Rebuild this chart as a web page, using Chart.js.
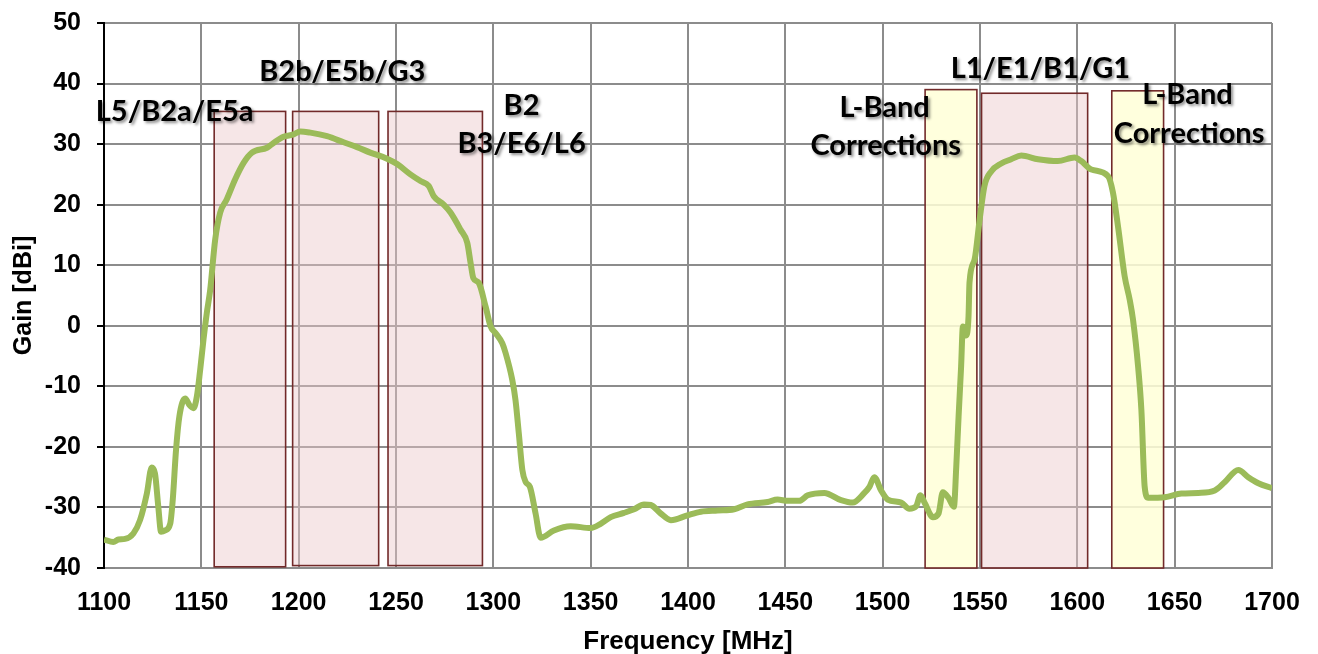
<!DOCTYPE html>
<html><head><meta charset="utf-8">
<script src="https://cdn.jsdelivr.net/npm/chart.js@4/dist/chart.umd.min.js"></script>
<style>html,body{margin:0;padding:0;background:#fff}#wrap{width:1318px;height:654px}</style>
</head><body><div id="wrap"><canvas id="c" width="1318" height="654"></canvas></div>
<script>
// Frequency sweep (MHz) and measured gain (dBi)
const freqMHz = [1100,1104.8,1107.4,1110.8,1115.1,1118.5,1122,1124.5,1126.2,1127.9,1129.3,1131.4,1134,1135.3,1137,1138.7,1141.7,1143.9,1146,1147.7,1149.4,1151.1,1152.8,1154.5,1157.1,1159.7,1163.1,1167.4,1171.7,1176,1183.7,1187.1,1192.2,1197.4,1200.8,1206,1214.6,1223.1,1230,1236.8,1245.4,1250.6,1257.4,1262.6,1266.8,1269.4,1274.5,1278,1283.1,1286.6,1288.3,1289.7,1292.5,1296,1298.6,1301.1,1304.6,1306.3,1309.7,1311.4,1313.1,1314.9,1316.6,1318.8,1321.7,1324.3,1331.1,1339.7,1350,1355.1,1360.3,1367.1,1372.3,1377.4,1380.9,1386,1391.2,1399.7,1406.6,1415.2,1423.7,1430.6,1440.9,1446,1451.2,1457.2,1461.5,1470,1478.6,1484.6,1490.6,1493.2,1495.7,1499.2,1502.6,1509.5,1513.7,1517.2,1519.4,1521.8,1525.8,1528.7,1530.9,1533.8,1536.6,1537.8,1539,1540.3,1541.2,1542.9,1544.1,1544.6,1547.2,1549.8,1552.3,1555.8,1560.9,1566,1571.2,1579.8,1590,1598.6,1602,1607.2,1615.8,1618.3,1620.9,1624.3,1626.9,1628.6,1631.2,1632.9,1634.6,1636.4,1644.9,1653.5,1662.1,1670.6,1675.8,1682.7,1687.8,1693,1700];
const gainDBi = [-35.3,-35.7,-35.3,-35.2,-34.3,-32.1,-27.7,-23.4,-24.4,-29.9,-34.0,-33.8,-32.7,-28.8,-20.5,-15.0,-12.0,-13.1,-13.6,-11.7,-7.3,-2.3,2.1,5.8,14.2,18.7,20.9,24.2,26.9,28.6,29.4,30.2,31.2,31.6,32.1,31.9,31.3,30.3,29.5,28.6,27.6,26.7,25.0,23.9,23.1,21.4,20.0,18.7,15.9,13.7,10.4,7.9,7.1,3.2,-0.1,-1.2,-2.9,-4.5,-8.9,-12.3,-17.8,-23.8,-25.8,-26.6,-31.0,-35.0,-33.8,-33.1,-33.4,-32.7,-31.6,-30.9,-30.3,-29.5,-29.6,-31.0,-32.1,-31.3,-30.7,-30.5,-30.3,-29.5,-29.1,-28.7,-28.9,-28.9,-28.0,-27.6,-28.8,-29.2,-27.6,-26.6,-25.0,-27.2,-28.7,-29.2,-30.2,-29.8,-28.0,-29.4,-31.6,-31.0,-27.5,-28.4,-29.9,-23.3,-15.0,-6.7,-0.1,-1.6,1.5,7.1,10.9,17.5,23.1,25.5,26.8,27.5,28.1,27.5,27.2,27.8,27.2,25.8,24.7,22.0,16.4,8.2,4.3,1.0,-6.7,-13.9,-26.6,-28.4,-28.3,-27.7,-27.6,-27.2,-25.8,-23.8,-25.0,-26.0,-26.8];

// GNSS band boxes: start/end frequency (MHz), top/bottom gain (dBi), kind
const bandStart = [1156.6, 1196.9, 1245.9, 1521.8, 1550.8, 1617.7];
const bandEnd   = [1193.3, 1241.1, 1294.4, 1548.4, 1605.3, 1644.3];
const bandTop   = [35.4, 35.4, 35.4, 39.0, 38.4, 38.8];
const bandBottom= [-39.8, -39.6, -39.6, -40, -40, -40];
const bandKind  = ['gnss','gnss','gnss','corr','gnss','corr'];

// Band labels, placed at (frequency, gain) centres
const labelText = ['L5/B2a/E5a','B2b/E5b/G3','B2','B3/E6/L6','L-Band','Corrections','L1/E1/B1/G1','L-Band','Corrections'];
const labelFreq = [1136.3, 1222.4, 1314.5, 1314.5, 1501.0, 1501.6, 1581.0, 1656.6, 1657.4];
const labelGain = [35.3, 41.9, 36.4, 30.0, 36.1, 29.8, 42.4, 38.1, 31.8];

// Axis ticks
const xTicks = [1100,1150,1200,1250,1300,1350,1400,1450,1500,1550,1600,1650,1700];
const yTicks = [-40,-30,-20,-10,0,10,20,30,40,50];

const bandsPlugin = {
  id: 'bands',
  beforeDatasetsDraw(chart) {
    const {ctx, scales:{x, y}} = chart;
    ctx.save();
    for (let i = 0; i < bandStart.length; i++) {
      const x0 = x.getPixelForValue(bandStart[i]), x1 = x.getPixelForValue(bandEnd[i]);
      const y0 = y.getPixelForValue(bandTop[i]), y1 = y.getPixelForValue(bandBottom[i]);
      ctx.fillStyle = bandKind[i] === 'corr' ? 'rgba(255,255,215,0.85)' : 'rgba(236,200,202,0.45)';
      ctx.fillRect(x0, y0, x1 - x0, y1 - y0);
      ctx.strokeStyle = '#722a2a';
      ctx.lineWidth = 1.6;
      ctx.strokeRect(x0, y0, x1 - x0, y1 - y0);
    }
    ctx.restore();
  },
  afterDatasetsDraw(chart) {
    const {ctx, scales:{x, y}} = chart;
    ctx.save();
    ctx.font = '700 29px Lato, "Open Sans", sans-serif';
    ctx.textAlign = 'center';
    ctx.textBaseline = 'middle';
    ctx.fillStyle = '#000';
    ctx.shadowColor = 'rgba(0,0,0,0.45)';
    ctx.shadowBlur = 3;
    ctx.shadowOffsetX = 2;
    ctx.shadowOffsetY = 2;
    for (let i = 0; i < labelText.length; i++) {
      ctx.fillText(labelText[i], x.getPixelForValue(labelFreq[i]), y.getPixelForValue(labelGain[i]));
    }
    ctx.restore();
  }
};

const tickFont = {family: '"Liberation Sans", Arial, sans-serif', size: 25, weight: 'bold'};

new Chart(document.getElementById('c'), {
  type: 'line',
  data: {
    datasets: [{
      data: freqMHz.map((f, i) => ({x: f, y: gainDBi[i]})),
      borderColor: '#9bbb59',
      borderWidth: 6,
      pointRadius: 0,
      cubicInterpolationMode: 'monotone',
      fill: false
    }]
  },
  options: {
    responsive: false,
    animation: false,
    devicePixelRatio: 1,
    layout: {padding: {top: 23, right: 46, left: 0, bottom: 0}},
    plugins: {legend: {display: false}, tooltip: {enabled: false}},
    scales: {
      x: {
        type: 'linear', min: 1100, max: 1700,
        afterBuildTicks(axis) { axis.ticks = xTicks.map(v => ({value: v})); },
        afterFit(axis) { axis.height = 86; axis.paddingLeft = 0; axis.paddingRight = 0; },
        grid: {color: '#8c8c8c', lineWidth: 2, drawTicks: false},
        border: {color: '#8c8c8c', width: 2},
        ticks: {color: '#000', font: tickFont, padding: 20, maxRotation: 0, callback: v => String(v)},
        title: {display: true, text: 'Frequency [MHz]', color: '#000',
                font: {family: '"Liberation Sans", Arial, sans-serif', size: 26, weight: 'bold'}, padding: {top: 9, bottom: -3}}
      },
      y: {
        min: -40, max: 50,
        afterBuildTicks(axis) { axis.ticks = yTicks.map(v => ({value: v})); },
        afterFit(axis) { axis.width = 104; axis.paddingTop = 0; axis.paddingBottom = 0; },
        grid: {color: '#8c8c8c', lineWidth: 2, tickLength: 7, tickColor: '#000'},
        border: {color: '#000', width: 2},
        ticks: {color: '#000', font: tickFont, padding: 16, callback: v => String(v)},
        title: {display: true, text: 'Gain [dBi]', color: '#000',
                font: {family: '"Liberation Sans", Arial, sans-serif', size: 25, weight: 'bold'}, padding: {bottom: 0, top: 9}}
      }
    }
  },
  plugins: [bandsPlugin]
});
</script></body></html>
